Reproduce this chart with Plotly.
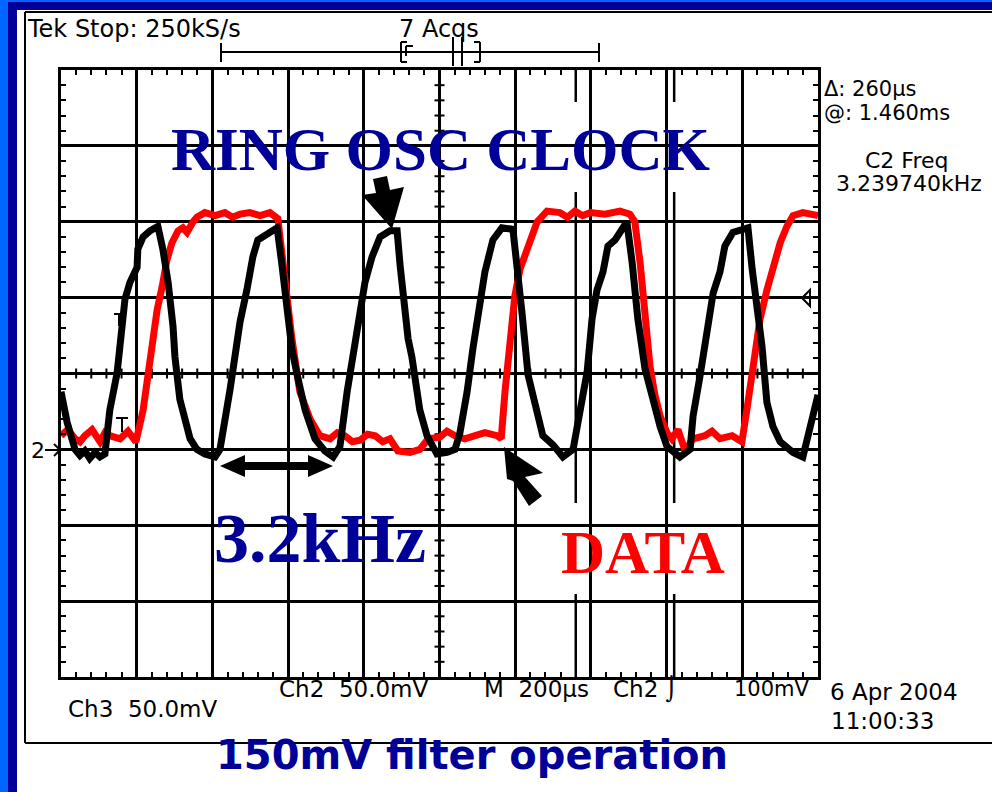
import plotly.graph_objects as go

# ---- captured waveforms (time in µs, amplitude in mV above the Ch2 ground marker) ----
clock_t = [
    0, 16, 37, 50, 63, 76, 90, 103, 116, 129,
    148, 161, 169, 182, 201, 203, 217, 235, 256, 269,
    283, 296, 301, 314, 341, 359, 380, 407, 420, 447,
    460, 473, 491, 507, 520, 544, 571, 584, 597, 610,
    624, 645, 671, 697, 719, 737, 756, 771, 790, 803,
    822, 843, 869, 888, 896, 904, 917, 927, 948, 967,
    993, 1020, 1041, 1054, 1073, 1088, 1107, 1120, 1141, 1165,
    1194, 1205, 1218, 1234, 1258, 1273, 1300, 1326, 1353, 1371,
    1390, 1403, 1416, 1432, 1445, 1464, 1482, 1495, 1509, 1524,
    1543, 1564, 1583, 1601, 1635, 1662, 1670, 1688, 1709, 1723,
    1741, 1754, 1775, 1802, 1815, 1826, 1839, 1852, 1865, 1881,
    1900, 1934, 1960, 1979, 2000,
]
clock_mv = [
    38, 18, 0, -4, -1, -6, -2, -5, -3, 26,
    50, 81, 99, 110, 120, 132, 140, 144, 147, 132,
    110, 81, 61, 33, 7, 0, -3, -5, 0, 40,
    61, 84, 105, 127, 138, 142, 146, 121, 88, 66,
    49, 26, 7, -1, -5, 2, 38, 63, 92, 110,
    127, 140, 144, 144, 121, 99, 73, 61, 26, 9,
    -3, -2, 0, 11, 38, 66, 94, 117, 138, 146,
    145, 123, 90, 49, 24, 9, 3, -5, 0, 26,
    51, 86, 105, 117, 134, 138, 145, 150, 123, 86,
    53, 31, 15, 2, -5, 0, 22, 48, 79, 103,
    117, 134, 143, 145, 146, 119, 94, 68, 31, 15,
    5, -2, -5, 15, 36,
]

data_t = [
    0, 18, 37, 50, 63, 82, 103, 116, 129, 156,
    177, 198, 217, 230, 235, 254, 267, 280, 293, 309,
    322, 333, 349, 359, 380, 407, 433, 453, 473, 499,
    526, 552, 573, 587, 597, 610, 631, 658, 684, 711,
    730, 750, 770, 790, 810, 830, 850, 869, 890, 922,
    948, 970, 1001, 1020, 1041, 1067, 1094, 1120, 1152, 1163,
    1173, 1186, 1199, 1213, 1231, 1244, 1258, 1284, 1318, 1338,
    1358, 1378, 1398, 1437, 1477, 1503, 1516, 1530, 1543, 1556,
    1569, 1583, 1601, 1614, 1630, 1649, 1670, 1701, 1720, 1741,
    1773, 1799, 1812, 1828, 1847, 1865, 1881, 1900, 1918, 1934,
    1960, 2000,
]
data_mv = [
    9, 13, 7, 5, 9, 13, 5, 11, 9, 7,
    12, 5, 26, 48, 61, 92, 107, 125, 136, 144,
    146, 143, 150, 153, 156, 154, 156, 153, 155, 156,
    154, 156, 152, 121, 99, 73, 38, 20, 9, 7,
    11, 9, 5, 6, 10, 9, 5, 7, -1, -2,
    0, 7, 8, 12, 9, 7, 9, 11, 9, 7,
    38, 73, 101, 119, 132, 140, 150, 157, 156, 153,
    157, 154, 156, 155, 157, 155, 150, 123, 90, 55,
    36, 22, 11, 7, 13, -1, 7, 9, 12, 7,
    9, 5, 26, 51, 86, 105, 121, 136, 147, 154,
    156, 154,
]

# screen: 10 divisions x 200 µs, 8 divisions x 50 mV
T_RANGE = [0, 2000]
V_RANGE = [-150, 250]
CURSORS_T = [1360, 1620]

# ---- pixel helpers for the frame decorations (plot area = graticule) ----
L, T, W, H = 61, 70, 757, 607
FIG_W, FIG_H = 992, 792


def fx(px):
    return (px - L) / W


def fy(py):
    return (T + H - py) / H


shapes = []


def seg(x0, y0, x1, y1, w=2, color="black", layer="above"):
    shapes.append(dict(type="line", xref="paper", yref="paper",
                       x0=fx(x0), y0=fy(y0), x1=fx(x1), y1=fy(y1),
                       line=dict(color=color, width=w), layer=layer))


def rect(x0, y0, x1, y1, color, layer="above"):
    shapes.append(dict(type="rect", xref="paper", yref="paper",
                       x0=fx(x0), y0=fy(y0), x1=fx(x1), y1=fy(y1),
                       fillcolor=color, line=dict(width=0), layer=layer))


def poly(pts, fill="black", outline=None, layer="above"):
    path = "M " + " L ".join(f"{fx(a):.5f},{fy(b):.5f}" for a, b in pts) + " Z"
    shapes.append(dict(type="path", xref="paper", yref="paper", path=path,
                       fillcolor=fill if fill else "rgba(0,0,0,0)",
                       line=dict(color=outline or "black", width=2 if outline else 0),
                       layer=layer))


# slide border
rect(0, 0, 8, FIG_H, "#0066FF")
rect(8, 0, 17, FIG_H, "#000099")
rect(8, 0, FIG_W, 2, "#0066FF")
rect(8, 2, FIG_W, 10, "#000099")

# scope screen frame
seg(25, 12, FIG_W, 12)
seg(25, 12, 25, 743)
seg(25, 743, FIG_W, 743)

# record view bar
seg(221, 52, 599, 52)
seg(221, 43, 221, 62)
seg(599, 43, 599, 62)
seg(401, 42, 401, 62)
seg(401, 42, 407, 42)
seg(401, 62, 407, 62)
seg(406, 46, 413, 46)
seg(406, 46, 406, 56)
seg(480, 42, 480, 62)
seg(474, 42, 480, 42)
seg(474, 62, 480, 62)
seg(453, 37, 453, 66)
seg(462, 37, 462, 66)

# minor ticks along the centre cross of the graticule
for k in range(1, 50):
    t = T_RANGE[0] + k * 40
    shapes.append(dict(type="line", xref="x", yref="y", x0=t, x1=t,
                       ysizemode="pixel", yanchor=50, y0=-5, y1=5,
                       line=dict(color="black", width=2), layer="between"))
for k in range(1, 40):
    v = V_RANGE[0] + k * 10
    shapes.append(dict(type="line", xref="x", yref="y", y0=v, y1=v,
                       xsizemode="pixel", xanchor=1000, x0=-5, x1=5,
                       line=dict(color="black", width=2), layer="between"))

# bar cursors
for t in CURSORS_T:
    shapes.append(dict(type="line", xref="x", yref="paper", x0=t, x1=t, y0=0, y1=1,
                       line=dict(color="black", width=2.5), layer="between"))

# white label panels pasted over the graticule
rect(157, 102, 725, 192, "white", layer="between")
rect(197, 481, 437, 588, "white", layer="between")
rect(540, 503, 746, 594, "white", layer="between")

# ground marker, trigger level marker, cursor handles
seg(45, 450, 59, 450)
seg(54, 444, 60, 450)
seg(54, 456, 60, 450)
poly([(810, 290), (810, 306), (802, 298)], fill=None, outline="black")
seg(114, 314, 125, 314)
seg(119, 314, 119, 326)
seg(116, 418, 128, 418)
seg(122, 418, 122, 432)

# pointer arrows
poly([(392, 229), (404, 187), (390, 190), (387, 176), (373, 179), (376, 193), (362, 195)])
poly([(504, 447), (543, 473), (525, 477), (542, 496), (529, 506), (513, 481), (507, 479)])
poly([(220, 466), (245, 455), (245, 462), (308, 462), (308, 455), (333, 466),
      (308, 477), (308, 470), (245, 470), (245, 477)])

# ---- text ----
SCOPE_FONT = "DejaVu Sans, Verdana, sans-serif"
SERIF = "Liberation Serif, Times New Roman, serif"
annotations = []


def label(text, px, py, size=23, anchor="left", color="black", family=SCOPE_FONT):
    annotations.append(dict(text=text, x=fx(px), y=fy(py), xref="paper", yref="paper",
                            xanchor=anchor, yanchor="middle", showarrow=False, borderpad=0,
                            font=dict(family=family, size=size, color=color)))


label("Tek Stop: 250kS/s", 26, 29, 24)
label("7 Acqs", 398, 29, 24)
label("Δ: 260µs", 823, 89, 21)
label("@: 1.460ms", 823, 113, 21)
label("C2 Freq", 906, 160, 22, anchor="center")
label("3.239740kHz", 909, 183, 22, anchor="center")
label("2", 38, 450, 22, anchor="center")
label("Ch2  50.0mV", 278, 689, 23)
label("M  200µs", 483, 689, 23)
label("Ch2 ⌡", 612, 689, 23)
label("100mV", 733, 689, 21)
label("Ch3  50.0mV", 67, 709, 23)
label("6 Apr 2004", 829, 692, 23)
label("11:00:33", 830, 721, 23)

label("<b>RING OSC CLOCK</b>", 440, 149, 61, anchor="center", color="#000099", family=SERIF)
label("<b>3.2kHz</b>", 320, 538, 70, anchor="center", color="#000099", family=SERIF)
label("<b>DATA</b>", 643, 552, 61, anchor="center", color="#FF0000", family=SERIF)
label("<b>150mV filter operation</b>", 472, 755, 40, anchor="center", color="#000099")

# ---- figure ----
fig = go.Figure()
fig.add_trace(go.Scatter(x=data_t, y=data_mv, mode="lines",
                         line=dict(color="#FF0000", width=7), name="DATA"))
fig.add_trace(go.Scatter(x=clock_t, y=clock_mv, mode="lines",
                         line=dict(color="black", width=7), name="RING OSC CLOCK"))

axis_common = dict(showgrid=True, gridcolor="black", gridwidth=2.5, zeroline=False,
                   showticklabels=False, ticks="inside", ticklen=5, tickwidth=2,
                   tickcolor="black", showline=True, linewidth=2.5, linecolor="black",
                   mirror="ticks", fixedrange=True)
fig.update_xaxes(range=T_RANGE, dtick=200, tick0=0,
                 minor=dict(dtick=40, ticks="inside", ticklen=5, tickwidth=2,
                            tickcolor="black", showgrid=False), **axis_common)
fig.update_yaxes(range=V_RANGE, dtick=50, tick0=0,
                 minor=dict(dtick=10, ticks="inside", ticklen=5, tickwidth=2,
                            tickcolor="black", showgrid=False), **axis_common)

fig.update_layout(width=FIG_W, height=FIG_H,
                  margin=dict(l=L, r=FIG_W - L - W, t=T, b=FIG_H - T - H, pad=0),
                  paper_bgcolor="white", plot_bgcolor="white", showlegend=False,
                  shapes=shapes, annotations=annotations)

fig.write_html("out.html")
